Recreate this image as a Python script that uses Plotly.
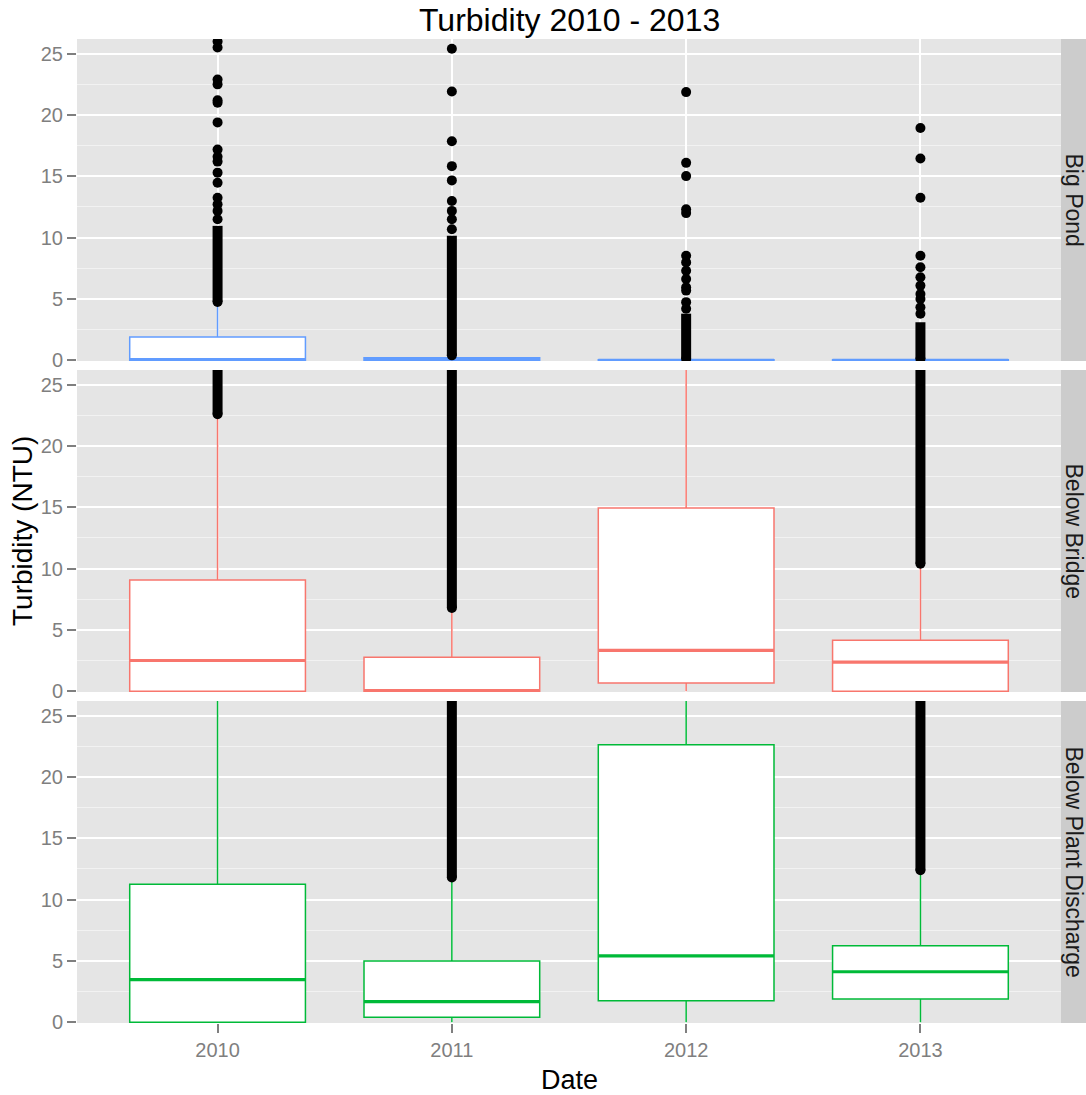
import plotly.graph_objects as go

# ---------------- data ----------------
years = ["2010", "2011", "2012", "2013"]
sites = ["Big Pond", "Below Bridge", "Below Plant Discharge"]
colors = {"Big Pond": "#619CFF", "Below Bridge": "#F8766D", "Below Plant Discharge": "#00BA38"}

# box statistics per site (2010..2013)
bp_q1 = [0.0, 0.0, 0.0, 0.0]
bp_median = [0.05, 0.08, 0.0, 0.0]
bp_q3 = [1.9, 0.2, 0.05, 0.05]
bp_lower = [0.0, 0.0, 0.0, 0.0]
bp_upper = [4.6, 0.35, 0.1, 0.1]

bb_q1 = [0.0, 0.0, 0.68, 0.0]
bb_median = [2.51, 0.05, 3.33, 2.37]
bb_q3 = [9.08, 2.78, 14.94, 4.17]
bb_lower = [0.0, 0.0, 0.0, 0.0]
bb_upper = [22.6, 6.8, 36.3, 10.36]

bpd_q1 = [0.0, 0.41, 1.76, 1.9]
bpd_median = [3.47, 1.68, 5.42, 4.12]
bpd_q3 = [11.25, 4.99, 22.64, 6.23]
bpd_lower = [0.0, 0.0, 0.0, 0.0]
bpd_upper = [28.1, 11.8, 53.0, 12.34]

# dense runs of outliers (low, high); None = no dense run
bp_dense = [(4.75, 10.96), (0.4, 10.15), (0.1, 3.8), (0.1, 3.1)]
bb_dense = [(22.6, 27.0), (6.8, 27.0), None, (10.4, 27.0)]
bpd_dense = [None, (11.8, 27.0), None, (12.4, 27.0)]

# isolated outliers
bp_out = [
    [11.5, 12.18, 12.72, 13.26, 14.48, 15.3, 16.2, 16.6, 17.18, 19.4, 21.0, 21.2, 22.5, 22.9, 25.5, 26.0],
    [10.69, 11.5, 12.18, 12.99, 14.67, 15.83, 17.86, 21.92, 25.4],
    [4.2, 4.74, 5.68, 5.96, 6.63, 7.3, 7.98, 8.52, 12.0, 12.31, 15.02, 16.1, 21.87],
    [3.79, 4.33, 5.0, 5.41, 6.09, 6.77, 7.58, 8.52, 13.26, 16.45, 18.94],
]
bb_out = [[], [], [], []]
bpd_out = [[], [], [], []]

site_stats = {
    "Big Pond": (bp_q1, bp_median, bp_q3, bp_lower, bp_upper, bp_dense, bp_out),
    "Below Bridge": (bb_q1, bb_median, bb_q3, bb_lower, bb_upper, bb_dense, bb_out),
    "Below Plant Discharge": (bpd_q1, bpd_median, bpd_q3, bpd_lower, bpd_upper, bpd_dense, bpd_out),
}

# ---------------- layout constants ----------------
W, H = 1086, 1095
ML, MR, MT, MB = 77, 25, 39, 72
PW = W - ML - MR
PH = H - MT - MB
GAP = 9
panel_h = (PH - 2 * GAP) / 3
BOXW = 0.75
FONT = "Liberation Sans, Arial, Helvetica, sans-serif"
GREY = "#7F7F7F"

fig = go.Figure()
axis_ids = ["", "2", "3"]
domains = []
for r in range(3):
    top = 1 - r * (panel_h + GAP) / PH
    bot = top - panel_h / PH
    domains.append([bot, top])

xpos = [1, 2, 3, 4]
for r, site in enumerate(sites):
    q1, med, q3, lo, up, dense, outs = site_stats[site]
    col = colors[site]
    xa = "x" + axis_ids[r]
    ya = "y" + axis_ids[r]
    for i, x in enumerate(xpos):
        fig.add_trace(go.Box(
            x=[x], q1=[q1[i]], median=[med[i]], q3=[q3[i]],
            lowerfence=[lo[i]], upperfence=[up[i]],
            width=BOXW, whiskerwidth=0, boxpoints=False,
            fillcolor="white", line=dict(color=col, width=1.5),
            xaxis=xa, yaxis=ya, showlegend=False, hoverinfo="skip",
        ))
        # thicker median line (ggplot fatten)
        fig.add_trace(go.Scatter(
            x=[x - BOXW / 2, x + BOXW / 2], y=[med[i], med[i]], mode="lines",
            line=dict(color=col, width=3.2), xaxis=xa, yaxis=ya,
            showlegend=False, hoverinfo="skip",
        ))
        if dense[i] is not None:
            dlo, dhi = dense[i]
            fig.add_trace(go.Scatter(
                x=[x, x], y=[dlo, dhi], mode="lines",
                line=dict(color="black", width=10), xaxis=xa, yaxis=ya,
                showlegend=False, hoverinfo="skip",
            ))
            fig.add_trace(go.Scatter(
                x=[x], y=[dlo], mode="markers",
                marker=dict(color="black", size=10), xaxis=xa, yaxis=ya,
                showlegend=False, hoverinfo="skip",
            ))
        if outs[i]:
            fig.add_trace(go.Scatter(
                x=[x] * len(outs[i]), y=outs[i], mode="markers",
                marker=dict(color="black", size=10), xaxis=xa, yaxis=ya,
                showlegend=False, hoverinfo="skip",
            ))

layout = dict(
    width=W, height=H,
    margin=dict(l=ML, r=MR, t=MT, b=MB, pad=0),
    paper_bgcolor="white", plot_bgcolor="#E5E5E5",
    font=dict(family=FONT, color="black"),
    showlegend=False,
)

for r in range(3):
    xk = "xaxis" + axis_ids[r]
    yk = "yaxis" + axis_ids[r]
    bottom = (r == 2)
    layout[xk] = dict(
        domain=[0, 1], anchor="y" + axis_ids[r], range=[0.4, 4.6],
        tickvals=xpos, ticktext=years,
        showgrid=True, gridcolor="white", gridwidth=1.5,
        zeroline=False, showline=False,
        showticklabels=bottom, ticks="outside" if bottom else "",
        ticklen=9, tickwidth=1.5, tickcolor=GREY,
        tickfont=dict(size=20, color=GREY, family=FONT),
    )
    if r > 0:
        layout[xk]["matches"] = "x"
    layout[yk] = dict(
        domain=domains[r], anchor="x" + axis_ids[r], range=[-0.06, 26.2],
        tickvals=[0, 5, 10, 15, 20, 25],
        showgrid=True, gridcolor="white", gridwidth=1.5,
        minor=dict(tickvals=[2.5, 7.5, 12.5, 17.5, 22.5], showgrid=True,
                   gridcolor="#F2F2F2", gridwidth=1.2, ticks=""),
        zeroline=False, showline=False,
        ticks="outside", ticklen=9, tickwidth=1.5, tickcolor=GREY,
        tickfont=dict(size=20, color=GREY, family=FONT),
    )

shapes = []
annotations = []
for r, site in enumerate(sites):
    d0, d1 = domains[r]
    shapes.append(dict(type="rect", xref="paper", yref="paper",
                       x0=1.0, x1=1 + MR / PW, y0=d0, y1=d1,
                       fillcolor="#CCCCCC", line=dict(width=0), layer="below"))
    annotations.append(dict(text=site, xref="paper", yref="paper",
                            x=1 + (MR / 2) / PW, y=(d0 + d1) / 2,
                            textangle=90, showarrow=False,
                            font=dict(size=23, color="#1A1A1A", family=FONT),
                            xanchor="center", yanchor="middle"))

annotations.append(dict(text="Turbidity 2010 - 2013", xref="paper", yref="paper",
                        x=0.5, y=1 + 19 / PH, showarrow=False,
                        xanchor="center", yanchor="middle",
                        font=dict(size=32, color="black", family=FONT)))
annotations.append(dict(text="Date", xref="paper", yref="paper",
                        x=0.5, y=-(1080 - (MT + PH)) / PH, showarrow=False,
                        xanchor="center", yanchor="middle",
                        font=dict(size=27, color="black", family=FONT)))
annotations.append(dict(text="Turbidity (NTU)", xref="paper", yref="paper",
                        x=-(ML - 22) / PW, y=0.5, textangle=-90, showarrow=False,
                        xanchor="center", yanchor="middle",
                        font=dict(size=28, color="black", family=FONT)))

layout["shapes"] = shapes
layout["annotations"] = annotations
fig.update_layout(**layout)

fig.write_html("out.html")
